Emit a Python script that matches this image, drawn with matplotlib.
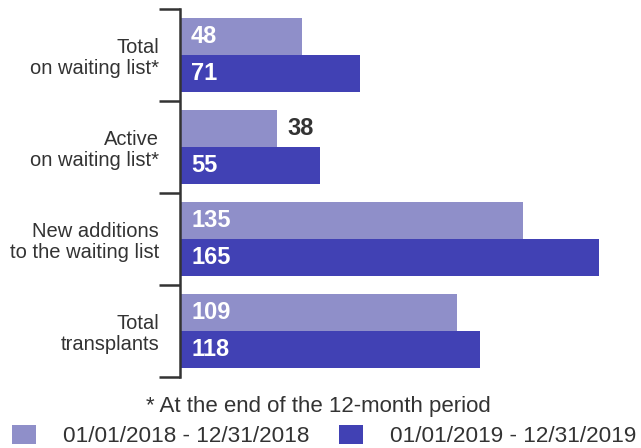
import matplotlib
matplotlib.use("Agg")
import matplotlib.pyplot as plt
import numpy as np

# data
categories = ["Total\non waiting list*", "Active\non waiting list*",
              "New additions\nto the waiting list", "Total\ntransplants"]
period_2018 = [48, 38, 135, 109]
period_2019 = [71, 55, 165, 118]
series_labels = ["01/01/2018 - 12/31/2018", "01/01/2019 - 12/31/2019"]
footnote = "* At the end of the 12-month period"

light = "#8F8FC9"
dark = "#4141B4"
txt = "#333333"

plt.rcParams["font.family"] = ["Liberation Sans", "DejaVu Sans"]

fig = plt.figure(figsize=(6.41, 4.48), dpi=100)
ax = fig.add_axes([180 / 641, 1 - 377 / 448, 180 * 2.542 / 641, 368 / 448])

y = np.arange(len(categories))
h = 0.4
b1 = ax.barh(y - h / 2, period_2018, height=h, color=light, label=series_labels[0])
b2 = ax.barh(y + h / 2, period_2019, height=h, color=dark, label=series_labels[1])

# value labels: inside (white) unless the bar is too short
for bars, vals in [(b1, period_2018), (b2, period_2019)]:
    for rect, v in zip(bars, vals):
        yc = rect.get_y() + rect.get_height() / 2
        if v < 40:
            ax.annotate(str(v), xy=(v, yc), xytext=(7.5, 0), textcoords="offset points",
                        ha="left", va="center", fontsize=17, fontweight="bold", color=txt)
        else:
            ax.annotate(str(v), xy=(0, yc), xytext=(8, 0), textcoords="offset points",
                        ha="left", va="center", fontsize=17, fontweight="bold", color="white")

ax.set_xlim(0, 180)
ax.set_ylim(len(categories) - 0.5, -0.5)

# boundary ticks (major) and category labels (minor)
ax.set_yticks(np.arange(-0.5, len(categories), 1.0))
ax.set_yticklabels([])
ax.tick_params(axis="y", which="major", length=15, width=1.8, color=txt, direction="out")
ax.set_yticks(y, minor=True)
ax.set_yticklabels(categories, minor=True, fontsize=14.5, color=txt, linespacing=1.1)
ax.tick_params(axis="y", which="minor", length=0, pad=15)

for s in ["top", "right", "bottom"]:
    ax.spines[s].set_visible(False)
ax.spines["left"].set_linewidth(1.8)
ax.spines["left"].set_color(txt)
ax.xaxis.set_visible(False)

fig.text(318 / 641, 1 - 406 / 448, footnote, ha="center", va="center", fontsize=16, color=txt)

leg = fig.legend(handles=[b1, b2], loc="center left", bbox_to_anchor=(12 / 641, 1 - 436 / 448),
                 ncol=2, frameon=False, fontsize=16.2, borderpad=0, borderaxespad=0,
                 handlelength=1.07, handleheight=0.95, handletextpad=1.2, columnspacing=1.3)
for t in leg.get_texts():
    t.set_color(txt)

fig.savefig("out.png", dpi=100)
